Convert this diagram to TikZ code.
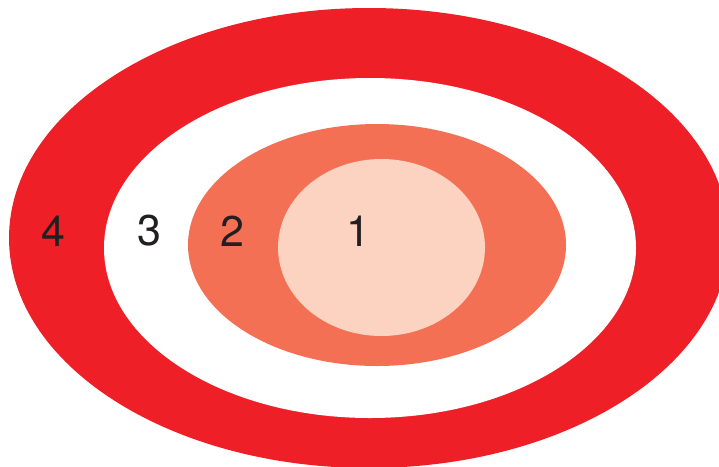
\documentclass[tikz,border=0pt]{standalone}
\usepackage{fontspec}
\setmainfont{TeX Gyre Heros}
\definecolor{ringred}{HTML}{EE1F26}
\definecolor{ringorange}{HTML}{F37055}
\definecolor{ringpink}{HTML}{FCD2C0}
\definecolor{labelgrey}{HTML}{231F20}
\begin{document}
\begin{tikzpicture}[x=1pt,y=-1pt,
  lbl/.style={text=labelgrey,font=\fontsize{43}{43}\selectfont,inner sep=0pt}]
\useasboundingbox (0,0) rectangle (719,466);
\clip (0,0) rectangle (719,466);
\fill[white] (0,0) rectangle (719,466);
\fill[ringred] (369,238) ellipse [x radius=360, y radius=230];
\fill[white] (370,248) ellipse [x radius=266, y radius=170];
\fill[ringorange] (377,245) ellipse [x radius=189, y radius=121];
\fill[ringpink] (381.5,247.5) ellipse [x radius=103.5, y radius=88.5];
\node[lbl] (n4) at (53,231) {4};
\node[lbl] (n3) at (149,231) {3};
\node[lbl] (n2) at (232,231) {2};
\node[lbl] (n1) at (358,231) {1};
\end{tikzpicture}
\end{document}
